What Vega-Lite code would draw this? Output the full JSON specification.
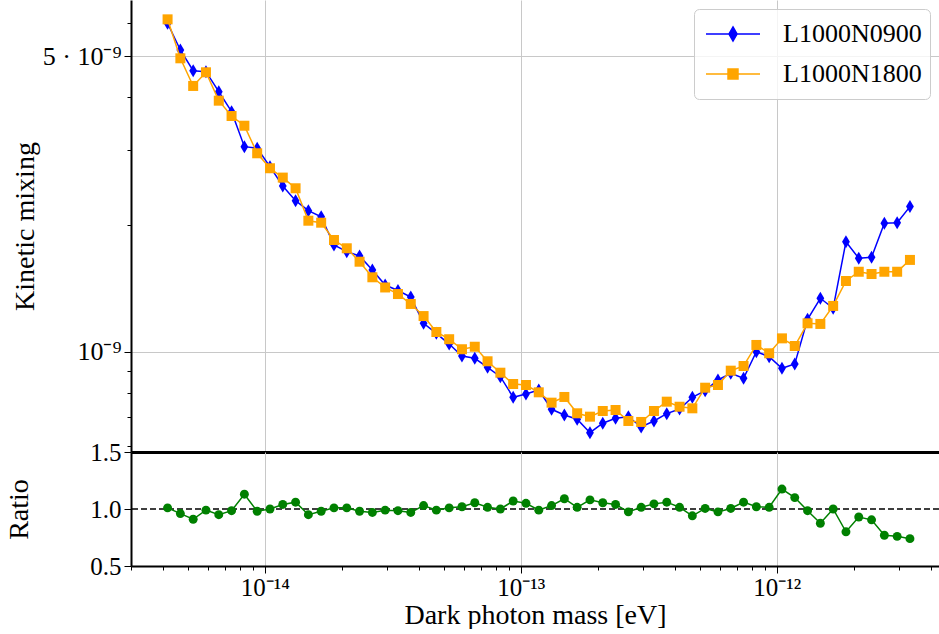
{
  "$schema": "https://vega.github.io/schema/vega-lite/v6.json",
  "background": "white",
  "padding": {"left": 5, "top": 0, "right": 0, "bottom": 0},
  "spacing": 0,
  "bounds": "flush",
  "config": {
    "view": {"stroke": null},
    "font": "Liberation Serif",
    "axis": {
      "labelFont": "Liberation Serif",
      "titleFont": "Liberation Serif",
      "labelColor": "black",
      "titleColor": "black",
      "titleFontWeight": "normal",
      "domainColor": "black",
      "tickColor": "black",
      "gridColor": "#c8c8c8",
      "gridWidth": 1,
      "labelOverlap": false,
      "labelFlush": false
    }
  },
  "datasets": {
    "kin": [
      {"m": 4.169e-15, "s": "L1000N0900", "k": 5.99e-9},
      {"m": 4.677e-15, "s": "L1000N0900", "k": 5.18e-9},
      {"m": 5.248e-15, "s": "L1000N0900", "k": 4.627e-9},
      {"m": 5.888e-15, "s": "L1000N0900", "k": 4.603e-9},
      {"m": 6.607e-15, "s": "L1000N0900", "k": 4.127e-9},
      {"m": 7.413e-15, "s": "L1000N0900", "k": 3.701e-9},
      {"m": 8.318e-15, "s": "L1000N0900", "k": 3.059e-9},
      {"m": 9.333e-15, "s": "L1000N0900", "k": 3.033e-9},
      {"m": 1.0471e-14, "s": "L1000N0900", "k": 2.744e-9},
      {"m": 1.1749e-14, "s": "L1000N0900", "k": 2.47e-9},
      {"m": 1.3183e-14, "s": "L1000N0900", "k": 2.28e-9},
      {"m": 1.4791e-14, "s": "L1000N0900", "k": 2.159e-9},
      {"m": 1.6596e-14, "s": "L1000N0900", "k": 2.089e-9},
      {"m": 1.8621e-14, "s": "L1000N0900", "k": 1.791e-9},
      {"m": 2.0893e-14, "s": "L1000N0900", "k": 1.727e-9},
      {"m": 2.3442e-14, "s": "L1000N0900", "k": 1.687e-9},
      {"m": 2.6303e-14, "s": "L1000N0900", "k": 1.563e-9},
      {"m": 2.9512e-14, "s": "L1000N0900", "k": 1.44e-9},
      {"m": 3.3113e-14, "s": "L1000N0900", "k": 1.398e-9},
      {"m": 3.7154e-14, "s": "L1000N0900", "k": 1.349e-9},
      {"m": 4.169e-14, "s": "L1000N0900", "k": 1.169e-9},
      {"m": 4.677e-14, "s": "L1000N0900", "k": 1.107e-9},
      {"m": 5.248e-14, "s": "L1000N0900", "k": 1.044e-9},
      {"m": 5.888e-14, "s": "L1000N0900", "k": 0.9784e-9},
      {"m": 6.607e-14, "s": "L1000N0900", "k": 0.9663e-9},
      {"m": 7.413e-14, "s": "L1000N0900", "k": 0.92e-9},
      {"m": 8.318e-14, "s": "L1000N0900", "k": 0.874e-9},
      {"m": 9.333e-14, "s": "L1000N0900", "k": 0.7814e-9},
      {"m": 1.0471e-13, "s": "L1000N0900", "k": 0.7956e-9},
      {"m": 1.1749e-13, "s": "L1000N0900", "k": 0.8131e-9},
      {"m": 1.3183e-13, "s": "L1000N0900", "k": 0.7319e-9},
      {"m": 1.4791e-13, "s": "L1000N0900", "k": 0.7096e-9},
      {"m": 1.6596e-13, "s": "L1000N0900", "k": 0.6932e-9},
      {"m": 1.8621e-13, "s": "L1000N0900", "k": 0.6444e-9},
      {"m": 2.0893e-13, "s": "L1000N0900", "k": 0.6783e-9},
      {"m": 2.3442e-13, "s": "L1000N0900", "k": 0.697e-9},
      {"m": 2.6303e-13, "s": "L1000N0900", "k": 0.7031e-9},
      {"m": 2.9512e-13, "s": "L1000N0900", "k": 0.6647e-9},
      {"m": 3.3113e-13, "s": "L1000N0900", "k": 0.6868e-9},
      {"m": 3.7154e-13, "s": "L1000N0900", "k": 0.7147e-9},
      {"m": 4.169e-13, "s": "L1000N0900", "k": 0.7331e-9},
      {"m": 4.677e-13, "s": "L1000N0900", "k": 0.7814e-9},
      {"m": 5.248e-13, "s": "L1000N0900", "k": 0.81e-9},
      {"m": 5.888e-13, "s": "L1000N0900", "k": 0.8586e-9},
      {"m": 6.607e-13, "s": "L1000N0900", "k": 0.8905e-9},
      {"m": 7.413e-13, "s": "L1000N0900", "k": 0.8666e-9},
      {"m": 8.318e-13, "s": "L1000N0900", "k": 1.0016e-9},
      {"m": 9.333e-13, "s": "L1000N0900", "k": 0.9747e-9},
      {"m": 1.0471e-12, "s": "L1000N0900", "k": 0.915e-9},
      {"m": 1.1749e-12, "s": "L1000N0900", "k": 0.9367e-9},
      {"m": 1.3183e-12, "s": "L1000N0900", "k": 1.195e-9},
      {"m": 1.4791e-12, "s": "L1000N0900", "k": 1.34e-9},
      {"m": 1.6596e-12, "s": "L1000N0900", "k": 1.269e-9},
      {"m": 1.8621e-12, "s": "L1000N0900", "k": 1.823e-9},
      {"m": 2.0893e-12, "s": "L1000N0900", "k": 1.666e-9},
      {"m": 2.3442e-12, "s": "L1000N0900", "k": 1.675e-9},
      {"m": 2.6303e-12, "s": "L1000N0900", "k": 2.016e-9},
      {"m": 2.9512e-12, "s": "L1000N0900", "k": 2.022e-9},
      {"m": 3.3113e-12, "s": "L1000N0900", "k": 2.207e-9},
      {"m": 4.169e-15, "s": "L1000N1800", "k": 6.12e-9},
      {"m": 4.677e-15, "s": "L1000N1800", "k": 4.95e-9},
      {"m": 5.248e-15, "s": "L1000N1800", "k": 4.258e-9},
      {"m": 5.888e-15, "s": "L1000N1800", "k": 4.587e-9},
      {"m": 6.607e-15, "s": "L1000N1800", "k": 3.93e-9},
      {"m": 7.413e-15, "s": "L1000N1800", "k": 3.615e-9},
      {"m": 8.318e-15, "s": "L1000N1800", "k": 3.429e-9},
      {"m": 9.333e-15, "s": "L1000N1800", "k": 2.951e-9},
      {"m": 1.0471e-14, "s": "L1000N1800", "k": 2.72e-9},
      {"m": 1.1749e-14, "s": "L1000N1800", "k": 2.585e-9},
      {"m": 1.3183e-14, "s": "L1000N1800", "k": 2.439e-9},
      {"m": 1.4791e-14, "s": "L1000N1800", "k": 2.044e-9},
      {"m": 1.6596e-14, "s": "L1000N1800", "k": 2.022e-9},
      {"m": 1.8621e-14, "s": "L1000N1800", "k": 1.84e-9},
      {"m": 2.0893e-14, "s": "L1000N1800", "k": 1.759e-9},
      {"m": 2.3442e-14, "s": "L1000N1800", "k": 1.635e-9},
      {"m": 2.6303e-14, "s": "L1000N1800", "k": 1.502e-9},
      {"m": 2.9512e-14, "s": "L1000N1800", "k": 1.421e-9},
      {"m": 3.3113e-14, "s": "L1000N1800", "k": 1.371e-9},
      {"m": 3.7154e-14, "s": "L1000N1800", "k": 1.299e-9},
      {"m": 4.169e-14, "s": "L1000N1800", "k": 1.216e-9},
      {"m": 4.677e-14, "s": "L1000N1800", "k": 1.115e-9},
      {"m": 5.248e-14, "s": "L1000N1800", "k": 1.072e-9},
      {"m": 5.888e-14, "s": "L1000N1800", "k": 1.015e-9},
      {"m": 6.607e-14, "s": "L1000N1800", "k": 1.029e-9},
      {"m": 7.413e-14, "s": "L1000N1800", "k": 0.9506e-9},
      {"m": 8.318e-14, "s": "L1000N1800", "k": 0.8933e-9},
      {"m": 9.333e-14, "s": "L1000N1800", "k": 0.84e-9},
      {"m": 1.0471e-13, "s": "L1000N1800", "k": 0.8355e-9},
      {"m": 1.1749e-13, "s": "L1000N1800", "k": 0.8028e-9},
      {"m": 1.3183e-13, "s": "L1000N1800", "k": 0.7588e-9},
      {"m": 1.4791e-13, "s": "L1000N1800", "k": 0.7827e-9},
      {"m": 1.6596e-13, "s": "L1000N1800", "k": 0.7161e-9},
      {"m": 1.8621e-13, "s": "L1000N1800", "k": 0.7031e-9},
      {"m": 2.0893e-13, "s": "L1000N1800", "k": 0.7252e-9},
      {"m": 2.3442e-13, "s": "L1000N1800", "k": 0.7291e-9},
      {"m": 2.6303e-13, "s": "L1000N1800", "k": 0.6868e-9},
      {"m": 2.9512e-13, "s": "L1000N1800", "k": 0.6831e-9},
      {"m": 3.3113e-13, "s": "L1000N1800", "k": 0.7252e-9},
      {"m": 3.7154e-13, "s": "L1000N1800", "k": 0.7629e-9},
      {"m": 4.169e-13, "s": "L1000N1800", "k": 0.7422e-9},
      {"m": 4.677e-13, "s": "L1000N1800", "k": 0.7358e-9},
      {"m": 5.248e-13, "s": "L1000N1800", "k": 0.8232e-9},
      {"m": 5.888e-13, "s": "L1000N1800", "k": 0.8355e-9},
      {"m": 6.607e-13, "s": "L1000N1800", "k": 0.9032e-9},
      {"m": 7.413e-13, "s": "L1000N1800", "k": 0.9266e-9},
      {"m": 8.318e-13, "s": "L1000N1800", "k": 1.039e-9},
      {"m": 9.333e-13, "s": "L1000N1800", "k": 0.9929e-9},
      {"m": 1.0471e-12, "s": "L1000N1800", "k": 1.077e-9},
      {"m": 1.1749e-12, "s": "L1000N1800", "k": 1.033e-9},
      {"m": 1.3183e-12, "s": "L1000N1800", "k": 1.169e-9},
      {"m": 1.4791e-12, "s": "L1000N1800", "k": 1.165e-9},
      {"m": 1.6596e-12, "s": "L1000N1800", "k": 1.285e-9},
      {"m": 1.8621e-12, "s": "L1000N1800", "k": 1.472e-9},
      {"m": 2.0893e-12, "s": "L1000N1800", "k": 1.548e-9},
      {"m": 2.3442e-12, "s": "L1000N1800", "k": 1.529e-9},
      {"m": 2.6303e-12, "s": "L1000N1800", "k": 1.548e-9},
      {"m": 2.9512e-12, "s": "L1000N1800", "k": 1.548e-9},
      {"m": 3.3113e-12, "s": "L1000N1800", "k": 1.651e-9}
    ],
    "rat": [
      {"m": 4.169e-15, "r": 1.01},
      {"m": 4.677e-15, "r": 0.96},
      {"m": 5.248e-15, "r": 0.91},
      {"m": 5.888e-15, "r": 0.99},
      {"m": 6.607e-15, "r": 0.95},
      {"m": 7.413e-15, "r": 0.985},
      {"m": 8.318e-15, "r": 1.13},
      {"m": 9.333e-15, "r": 0.98},
      {"m": 1.0471e-14, "r": 1.0},
      {"m": 1.1749e-14, "r": 1.04},
      {"m": 1.3183e-14, "r": 1.06},
      {"m": 1.4791e-14, "r": 0.95},
      {"m": 1.6596e-14, "r": 0.98},
      {"m": 1.8621e-14, "r": 1.01},
      {"m": 2.0893e-14, "r": 1.01},
      {"m": 2.3442e-14, "r": 0.98},
      {"m": 2.6303e-14, "r": 0.97},
      {"m": 2.9512e-14, "r": 0.99},
      {"m": 3.3113e-14, "r": 0.985},
      {"m": 3.7154e-14, "r": 0.97},
      {"m": 4.169e-14, "r": 1.03},
      {"m": 4.677e-14, "r": 0.99},
      {"m": 5.248e-14, "r": 1.01},
      {"m": 5.888e-14, "r": 1.02},
      {"m": 6.607e-14, "r": 1.055},
      {"m": 7.413e-14, "r": 1.015},
      {"m": 8.318e-14, "r": 1.0},
      {"m": 9.333e-14, "r": 1.07},
      {"m": 1.0471e-13, "r": 1.05},
      {"m": 1.1749e-13, "r": 0.99},
      {"m": 1.3183e-13, "r": 1.03},
      {"m": 1.4791e-13, "r": 1.09},
      {"m": 1.6596e-13, "r": 1.015},
      {"m": 1.8621e-13, "r": 1.08},
      {"m": 2.0893e-13, "r": 1.055},
      {"m": 2.3442e-13, "r": 1.04},
      {"m": 2.6303e-13, "r": 0.975},
      {"m": 2.9512e-13, "r": 1.015},
      {"m": 3.3113e-13, "r": 1.045},
      {"m": 3.7154e-13, "r": 1.06},
      {"m": 4.169e-13, "r": 1.015},
      {"m": 4.677e-13, "r": 0.94},
      {"m": 5.248e-13, "r": 1.005},
      {"m": 5.888e-13, "r": 0.975},
      {"m": 6.607e-13, "r": 1.005},
      {"m": 7.413e-13, "r": 1.06},
      {"m": 8.318e-13, "r": 1.02},
      {"m": 9.333e-13, "r": 1.015},
      {"m": 1.0471e-12, "r": 1.175},
      {"m": 1.1749e-12, "r": 1.1},
      {"m": 1.3183e-12, "r": 0.985},
      {"m": 1.4791e-12, "r": 0.875},
      {"m": 1.6596e-12, "r": 1.0},
      {"m": 1.8621e-12, "r": 0.8},
      {"m": 2.0893e-12, "r": 0.93},
      {"m": 2.3442e-12, "r": 0.905},
      {"m": 2.6303e-12, "r": 0.77},
      {"m": 2.9512e-12, "r": 0.76},
      {"m": 3.3113e-12, "r": 0.74}
    ]
  },
  "vconcat": [
    {
      "width": 808,
      "height": 452,
      "data": {"name": "kin"},
      "encoding": {
        "x": {
          "field": "m",
          "type": "quantitative",
          "scale": {"type": "log", "domain": [3e-15, 4.3e-12], "nice": false},
          "axis": {
            "title": null,
            "labels": false,
            "ticks": false,
            "domainWidth": 3,
            "values": [1e-14, 1e-13, 1e-12],
            "grid": true
          }
        },
        "y": {
          "field": "k",
          "type": "quantitative",
          "scale": {"type": "log", "domain": [5.8e-10, 6.8e-9], "nice": false},
          "axis": {
            "title": "Kinetic mixing",
            "titleFontSize": 28,
            "titleX": -98,
            "titleBaseline": "alphabetic",
            "labelFontSize": 26,
            "labelPadding": 3,
            "domainWidth": 2,
            "values": [6e-10, 7e-10, 8e-10, 9e-10, 1e-9, 2e-9, 3e-9, 4e-9, 5e-9, 6e-9],
            "labelExpr": "datum.value == 1e-9 ? '10⁻⁹' : datum.value == 5e-9 ? '5 · 10⁻⁹' : ''",
            "gridOpacity": {"condition": {"test": "datum.value == 1e-9 || datum.value == 5e-9", "value": 1}, "value": 0},
            "tickSize": {"condition": {"test": "datum.value == 1e-9 || datum.value == 5e-9", "value": 7}, "value": 4}
          }
        },
        "color": {
          "field": "s",
          "type": "nominal",
          "scale": {"domain": ["L1000N0900", "L1000N1800"], "range": ["#0000ff", "#ffa500"]},
          "legend": {
            "title": null,
            "orient": "top-right",
            "offset": 9,
            "labelFont": "Liberation Serif",
            "labelFontSize": 26,
            "labelColor": "black",
            "labelOffset": 22,
            "symbolOffset": 3,
            "symbolSize": 2916,
            "clipHeight": 34,
            "padding": 8,
            "rowPadding": 6,
            "strokeColor": "#cccccc",
            "fillColor": "rgba(255,255,255,0.8)",
            "cornerRadius": 5,
            "encode": {
              "symbols": {
                "update": {
                  "shape": {"signal": "datum.value == 'L1000N0900' ? 'M-1,0H1M0,-0.26L0.15,0L0,0.26L-0.15,0Z' : 'M-1,0H1M-0.185,-0.185H0.185V0.185H-0.185Z'"},
                  "fill": {"signal": "datum.value == 'L1000N0900' ? '#0000ff' : '#ffa500'"},
                  "stroke": {"signal": "datum.value == 'L1000N0900' ? '#0000ff' : '#ffa500'"},
                  "strokeWidth": {"value": 1.5},
                  "opacity": {"value": 1},
                  "fillOpacity": {"value": 1},
                  "strokeOpacity": {"value": 1}
                }
              }
            }
          }
        }
      },
      "layer": [
        {
          "transform": [{"filter": "datum.s == 'L1000N0900'"}],
          "mark": {"type": "line", "strokeWidth": 1.5}
        },
        {
          "transform": [{"filter": "datum.s == 'L1000N0900'"}],
          "mark": {"type": "point", "filled": true, "opacity": 1, "size": 169, "shape": "M0,-1L0.6,0L0,1L-0.6,0Z"}
        },
        {
          "transform": [{"filter": "datum.s == 'L1000N1800'"}],
          "mark": {"type": "line", "strokeWidth": 1.5}
        },
        {
          "transform": [{"filter": "datum.s == 'L1000N1800'"}],
          "mark": {"type": "point", "filled": true, "opacity": 1, "size": 100, "shape": "square"}
        }
      ]
    },
    {
      "width": 808,
      "height": 114,
      "layer": [
        {
          "data": {"values": [{"ref": 1}]},
          "mark": {"type": "rule", "color": "black", "strokeDash": [6, 3], "strokeWidth": 1.3},
          "encoding": {
            "y": {"field": "ref", "type": "quantitative", "scale": {"domain": [0.5, 1.5], "nice": false}}
          }
        },
        {
          "data": {"name": "rat"},
          "mark": {"type": "line", "color": "#008000", "strokeWidth": 1.5},
          "encoding": {
            "x": {"field": "m", "type": "quantitative", "scale": {"type": "log", "domain": [3e-15, 4.3e-12], "nice": false}},
            "y": {"field": "r", "type": "quantitative"}
          }
        },
        {
          "data": {"name": "rat"},
          "mark": {"type": "point", "filled": true, "opacity": 1, "color": "#008000", "size": 80, "shape": "circle"},
          "encoding": {
            "x": {
              "field": "m",
              "type": "quantitative",
              "scale": {"type": "log", "domain": [3e-15, 4.3e-12], "nice": false},
              "axis": {
                "title": "Dark photon mass [eV]",
                "titleFontSize": 28,
                "titlePadding": 1,
                "labelFontSize": 25,
                "labelPadding": 2,
                "domainWidth": 2,
                "values": [3e-15, 4e-15, 5e-15, 6e-15, 7e-15, 8e-15, 9e-15, 1e-14, 2e-14, 3e-14, 4e-14, 5e-14, 6e-14, 7e-14, 8e-14, 9e-14, 1e-13, 2e-13, 3e-13, 4e-13, 5e-13, 6e-13, 7e-13, 8e-13, 9e-13, 1e-12, 2e-12, 3e-12, 4e-12],
                "labelExpr": "datum.value == 1e-14 ? '10⁻¹⁴' : datum.value == 1e-13 ? '10⁻¹³' : datum.value == 1e-12 ? '10⁻¹²' : ''",
                "gridOpacity": {"condition": {"test": "datum.value == 1e-14 || datum.value == 1e-13 || datum.value == 1e-12", "value": 1}, "value": 0},
                "tickSize": {"condition": {"test": "datum.value == 1e-14 || datum.value == 1e-13 || datum.value == 1e-12", "value": 7}, "value": 4},
                "grid": true
              }
            },
            "y": {
              "field": "r",
              "type": "quantitative",
              "axis": {
                "title": "Ratio",
                "titleFontSize": 28,
                "titleX": -104,
                "titleBaseline": "alphabetic",
                "labelFontSize": 25,
                "labelPadding": 3,
                "domainWidth": 2,
                "tickSize": 7,
                "values": [0.5, 1.0, 1.5],
                "format": ".1f",
                "grid": false
              }
            }
          }
        }
      ]
    }
  ]
}
